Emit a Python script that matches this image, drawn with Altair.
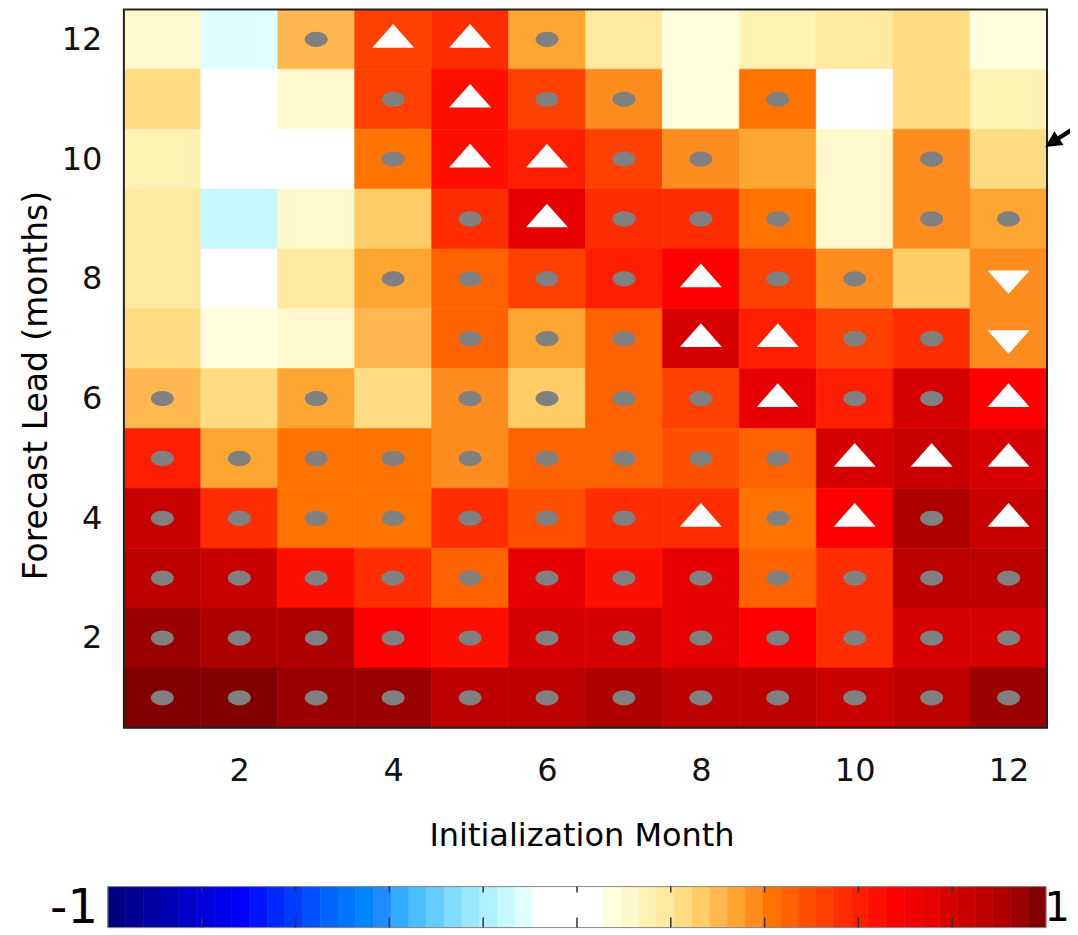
import altair as alt
import pandas as pd

# ---------------- data ----------------
init_months = list(range(1, 13))          # x: initialization month
leads = list(range(12, 0, -1))            # rows, top (lead 12) to bottom (lead 1)

# correlation values (rows lead 12 -> 1, columns month 1 -> 12)
skill_rows = [
    [0.11, -0.11, 0.30, 0.53, 0.57, 0.34, 0.19, 0.08, 0.15, 0.19, 0.23, 0.08],
    [0.23, -0.04, 0.11, 0.53, 0.64, 0.53, 0.38, 0.08, 0.42, -0.04, 0.23, 0.15],
    [0.15, -0.04, -0.04, 0.42, 0.64, 0.60, 0.53, 0.38, 0.34, 0.11, 0.38, 0.23],
    [0.19, -0.15, 0.11, 0.26, 0.57, 0.75, 0.57, 0.57, 0.42, 0.11, 0.38, 0.34],
    [0.19, -0.04, 0.19, 0.34, 0.45, 0.53, 0.60, 0.68, 0.53, 0.38, 0.26, 0.38],
    [0.23, 0.08, 0.11, 0.30, 0.45, 0.34, 0.45, 0.79, 0.60, 0.53, 0.57, 0.38],
    [0.30, 0.23, 0.34, 0.23, 0.38, 0.26, 0.45, 0.53, 0.75, 0.60, 0.79, 0.68],
    [0.60, 0.34, 0.42, 0.42, 0.38, 0.45, 0.45, 0.49, 0.45, 0.79, 0.83, 0.79],
    [0.83, 0.57, 0.42, 0.42, 0.57, 0.49, 0.57, 0.57, 0.42, 0.68, 0.91, 0.83],
    [0.87, 0.83, 0.64, 0.57, 0.45, 0.75, 0.64, 0.75, 0.45, 0.57, 0.87, 0.87],
    [0.94, 0.91, 0.91, 0.68, 0.64, 0.79, 0.79, 0.75, 0.68, 0.57, 0.79, 0.79],
    [0.98, 0.98, 0.94, 0.94, 0.87, 0.87, 0.91, 0.87, 0.87, 0.83, 0.87, 0.94],
]

# significance markers: o = grey dot, ^ = white up-triangle, v = white down-triangle, . = none
marker_rows = [
    "..o^^o......",
    "...o^oo.o...",
    "...o^^oo..o.",
    "....o^ooo.oo",
    "...oooo^oo.v",
    "....ooo^^oov",
    "o.o.oooo^oo^",
    "ooooooooo^^^",
    "ooooooo^o^o^",
    "oooooooooooo",
    "oooooooooooo",
    "oooooooooooo",
]

axis_ticks = [2, 4, 6, 8, 10, 12]
grid_lo, grid_hi = 0.5, 12.5
cbar_ticks = [-0.8, -0.6, -0.4, -0.2, 0.0, 0.2, 0.4, 0.6, 0.8]
cbar_bins = list(range(53))
cbar_labels = ["-1", "1"]
arrow_pos = {"x": [12.69], "y": [10.38]}

palette = [
    "#00007F", "#000091", "#0000A3", "#0000B5", "#0000C8", "#0000DA", "#0000EC", "#0000FF",
    "#0014FF", "#0028FF", "#003CFF", "#0050FF", "#0064FF", "#0074FF", "#0084FF", "#1E8CFF",
    "#32AAFF", "#4BBEFF", "#64CCFF", "#82DCFF", "#9AE8FF", "#B0F0FF", "#C8F8FF", "#E0FFFF",
    "#FFFFFF", "#FFFFFF", "#FFFFFF", "#FFFFFF",
    "#FFFFE0", "#FFF8CC", "#FFF2B4", "#FFE8A0", "#FFDC82", "#FFCC66", "#FFB84F", "#FFA532",
    "#FF8C1E", "#FF7300", "#FF6200", "#FF5000", "#FF4100", "#FF2D00", "#FF1E00", "#FF0F00",
    "#FF0000", "#F00000", "#E60000", "#D70000", "#C80000", "#BC0000", "#AF0000", "#9B0000",
    "#820000",
]

# ---------------- tables ----------------
cells = []
for r, lead in enumerate(leads):
    for c, m in enumerate(init_months):
        cells.append({"month": m, "lead": lead, "r": skill_rows[r][c], "sig": marker_rows[r][c]})
df = pd.DataFrame(cells)

FONT = "DejaVu Sans"
ELLIPSE = "M -1 0 A 1 0.66 0 1 1 1 0 A 1 0.66 0 1 1 -1 0 Z"
TRI_UP = "M -1 0.4 L 1 0.4 L 0 -0.73 Z"
TRI_DOWN = "M -1 -0.4 L 1 -0.4 L 0 0.73 Z"
ARROW = ("M -1 0.65 L 0.1105 0.524 L -0.0912 0.2139 L 1.0709 -0.5411 "
         "L 0.9291 -0.7589 L -0.2329 -0.0039 L -0.4345 -0.314 Z")

# plot area runs from the grid's left edge to the right edge of the page so that the
# annotation arrow can be cut off there like in the original
PX_PER_UNIT = 77.0
GRID_W = 924
PLOT_W = 947
PLOT_H = 719
xscale = alt.Scale(domain=[grid_lo, grid_lo + PLOT_W / PX_PER_UNIT], nice=False, zero=False)
yscale = alt.Scale(domain=[grid_lo, grid_hi], nice=False, zero=False)
cscale = alt.Scale(type="quantize", domain=[-1, 1], range=palette)

base = alt.Chart(df).transform_calculate(
    x0="datum.month - 0.5", x1="datum.month + 0.5",
    y0="datum.lead - 0.5", y1="datum.lead + 0.5",
)

heat = base.mark_rect(strokeWidth=0.6).encode(
    x=alt.X("x0:Q", scale=xscale,
            axis=alt.Axis(values=axis_ticks, format="d", title="Initialization Month",
                          labelPadding=28, titlePadding=34, titleX=GRID_W / 2 - 4,
                          titleAlign="center")),
    x2="x1:Q",
    y=alt.Y("y0:Q", scale=yscale,
            axis=alt.Axis(values=axis_ticks, format="d", title="Forecast Lead (months)",
                          labelPadding=22, titlePadding=8, titleFontSize=33,
                          titleY=376, titleAlign="center")),
    y2="y1:Q",
    color=alt.Color("r:Q", scale=cscale, legend=None),
    stroke=alt.Stroke("r:Q", scale=cscale, legend=None),
)

dots = base.transform_filter("datum.sig == 'o'").mark_point(
    filled=True, shape=ELLIPSE, size=529, color="#808080", opacity=1, strokeWidth=0
).encode(x=alt.X("month:Q", scale=xscale), y=alt.Y("lead:Q", scale=yscale))

ups = base.transform_filter("datum.sig == '^'").mark_point(
    filled=True, shape=TRI_UP, size=1764, color="#FFFFFF", opacity=1, strokeWidth=0
).encode(x=alt.X("month:Q", scale=xscale), y=alt.Y("lead:Q", scale=yscale))

downs = base.transform_filter("datum.sig == 'v'").mark_point(
    filled=True, shape=TRI_DOWN, size=1764, color="#FFFFFF", opacity=1, strokeWidth=0
).encode(x=alt.X("month:Q", scale=xscale), y=alt.Y("lead:Q", scale=yscale))

frame_df = pd.DataFrame({"a": [grid_lo], "b": [grid_hi]})
frame = alt.Chart(frame_df).mark_rect(
    filled=False, stroke="#222222", strokeWidth=2, fillOpacity=0
).encode(x=alt.X("a:Q", scale=xscale), x2="b:Q",
         y=alt.Y("a:Q", scale=yscale), y2="b:Q")

arrow = alt.Chart(pd.DataFrame(arrow_pos)).mark_point(
    filled=True, shape=ARROW, size=1089, color="#000000", opacity=1, strokeWidth=0, clip=True
).encode(x=alt.X("x:Q", scale=xscale), y=alt.Y("y:Q", scale=yscale))

top = alt.layer(heat, dots, ups, downs, frame, arrow).properties(
    width=PLOT_W, height=PLOT_H,
)

# ---------------- colour bar ----------------
# bar spans -1..1 over 939 px starting 16 px left of the grid
CB_PX = 939 / 2.0
cb_lo = -1 + 16 / CB_PX
cb_hi = cb_lo + PLOT_W / CB_PX
cbx = alt.Scale(domain=[cb_lo, cb_hi], nice=False, zero=False)
CB_H = 41

cb = alt.Chart(pd.DataFrame({"k": cbar_bins})).transform_calculate(
    lo="-1 + 2*datum.k/53", hi="-1 + 2*(datum.k+1)/53", v="-1 + (2*datum.k+1)/53"
).mark_rect(strokeWidth=0.6).encode(
    x=alt.X("lo:Q", scale=cbx, axis=None),
    x2="hi:Q",
    color=alt.Color("v:Q", scale=cscale, legend=None),
    stroke=alt.Stroke("v:Q", scale=cscale, legend=None),
)
cb_frame = alt.Chart(pd.DataFrame({"a": [-1], "b": [1]})).mark_rect(
    filled=False, stroke="#888888", strokeWidth=1, fillOpacity=0
).encode(x=alt.X("a:Q", scale=cbx), x2="b:Q")
tick_df = pd.DataFrame({"t": cbar_ticks})
tick_top = alt.Chart(tick_df).mark_rule(color="#333333", strokeWidth=1.5).encode(
    x=alt.X("t:Q", scale=cbx), y=alt.value(0), y2=alt.value(6))
tick_bot = alt.Chart(tick_df).mark_rule(color="#333333", strokeWidth=1.5).encode(
    x=alt.X("t:Q", scale=cbx), y=alt.value(CB_H - 10), y2=alt.value(CB_H))
lab_left = alt.Chart(pd.DataFrame({"t": [-1], "lab": [cbar_labels[0]]})).mark_text(
    font=FONT, fontSize=48, align="right", baseline="middle", dx=-10, color="#000000"
).encode(x=alt.X("t:Q", scale=cbx), y=alt.value(22), text="lab:N")
lab_right = alt.Chart(pd.DataFrame({"t": [cb_hi], "lab": [cbar_labels[1]]})).mark_text(
    font=FONT, fontSize=40, align="right", baseline="middle", color="#000000"
).encode(x=alt.X("t:Q", scale=cbx), y=alt.value(22), text="lab:N")

bar = alt.layer(cb, cb_frame, tick_top, tick_bot, lab_left, lab_right).properties(
    width=PLOT_W, height=CB_H,
)

chart = alt.vconcat(top, bar, spacing=33).properties(
    padding={"left": 12, "top": 0, "right": 0, "bottom": 0}
).configure_axis(
    labelFont=FONT, labelFontSize=32, labelColor="#111111",
    titleFont=FONT, titleFontSize=32, titleFontWeight="normal", titleColor="#000000",
    ticks=False, domain=False, grid=False,
).configure_view(stroke=None)

chart.save("out.html", embed_options={"renderer": "svg", "actions": False})
